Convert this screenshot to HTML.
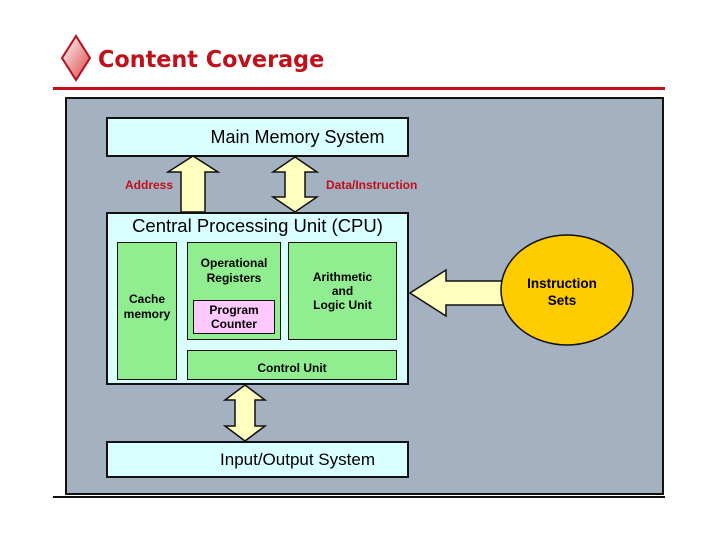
<!DOCTYPE html>
<html><head><style>
body{margin:0;width:720px;height:540px;background:#fff;overflow:hidden;position:relative;font-family:"Liberation Sans",sans-serif}
.a{position:absolute}
.bx{position:absolute;box-sizing:border-box;border:2px solid #111}
.t{display:flex;align-items:center;justify-content:center;text-align:center}
</style></head><body>
<svg class="a" style="left:0;top:0" width="720" height="540">
<defs><linearGradient id="g" x1="0" y1="0" x2="1" y2="1"><stop offset="0" stop-color="#fff"/><stop offset="1" stop-color="#d94040"/></linearGradient></defs>
<polygon points="76,36 90,58 76,80 62,58" fill="url(#g)" stroke="#b01020" stroke-width="2"/>
<rect x="53" y="87" width="612" height="3" fill="#c0101a"/>
<rect x="53" y="496" width="612" height="2" fill="#111"/>
<rect x="66" y="98" width="597" height="396" fill="#a4b1c1" stroke="#111" stroke-width="2"/>
</svg>
<div class="a" style="left:98px;top:47px;font-family:'DejaVu Sans',sans-serif;font-weight:bold;font-size:23px;color:#c0101a;transform:scaleX(0.97);transform-origin:left">Content Coverage</div>
<div class="bx t" style="left:106px;top:117px;width:303px;height:40px;background:#d9ffff;font-size:18px;padding-left:80px">Main Memory System</div>
<div class="bx" style="left:106px;top:212px;width:303px;height:173px;background:#d9ffff"></div>
<div class="a" style="left:106px;top:215px;width:303px;text-align:center;font-size:18.5px">Central Processing Unit (CPU)</div>
<div class="bx t" style="left:117px;top:242px;width:60px;height:138px;background:#90ee90;font-size:12px;font-weight:bold;border-width:1.5px;padding-bottom:8px;line-height:15px">Cache<br>memory</div>
<div class="bx" style="left:187px;top:242px;width:94px;height:98px;background:#90ee90;border-width:1.5px"></div>
<div class="a" style="left:187px;top:256px;width:94px;text-align:center;font-size:12px;font-weight:bold;line-height:15px">Operational<br>Registers</div>
<div class="bx t" style="left:193px;top:300px;width:82px;height:34px;background:#ffc8ff;font-size:12px;font-weight:bold;border-width:1.5px">Program<br>Counter</div>
<div class="bx t" style="left:288px;top:242px;width:109px;height:98px;background:#90ee90;font-size:12px;font-weight:bold;border-width:1.5px;align-items:flex-start;padding-top:27px;line-height:14px">Arithmetic<br>and<br>Logic Unit</div>
<div class="bx t" style="left:187px;top:350px;width:210px;height:30px;background:#90ee90;font-size:12px;font-weight:bold;border-width:1.5px;padding-top:5px">Control Unit</div>
<div class="bx t" style="left:106px;top:441px;width:303px;height:37px;background:#d9ffff;font-size:17px;padding-left:80px">Input/Output System</div>
<div class="a" style="left:125px;top:178px;font-size:12px;font-weight:bold;color:#c0101a">Address</div>
<div class="a" style="left:326px;top:178px;font-size:12px;font-weight:bold;color:#c0101a">Data/Instruction</div>
<svg class="a" style="left:0;top:0" width="720" height="540">
<g fill="#ffffc0" stroke="#111" stroke-width="1.5">
<polygon points="193,156 218,172 205,172 205,212 181,212 181,172 168,172"/>
<polygon points="295,157 317,172 305,172 305,197 317,197 295,212 273,197 285,197 285,172 273,172"/>
<polygon points="245,385 265,400 255,400 255,426 265,426 245,441 225,426 235,426 235,400 225,400"/>
<polygon points="410,293 446,270 446,281 505,281 505,305 446,305 446,316"/>
<ellipse cx="567" cy="290" rx="66" ry="55" fill="#ffcc00"/>
</g>
</svg>
<div class="a t" style="left:496px;top:275px;width:132px;font-size:13.5px;font-weight:bold;line-height:17px">Instruction<br>Sets</div>
</body></html>
